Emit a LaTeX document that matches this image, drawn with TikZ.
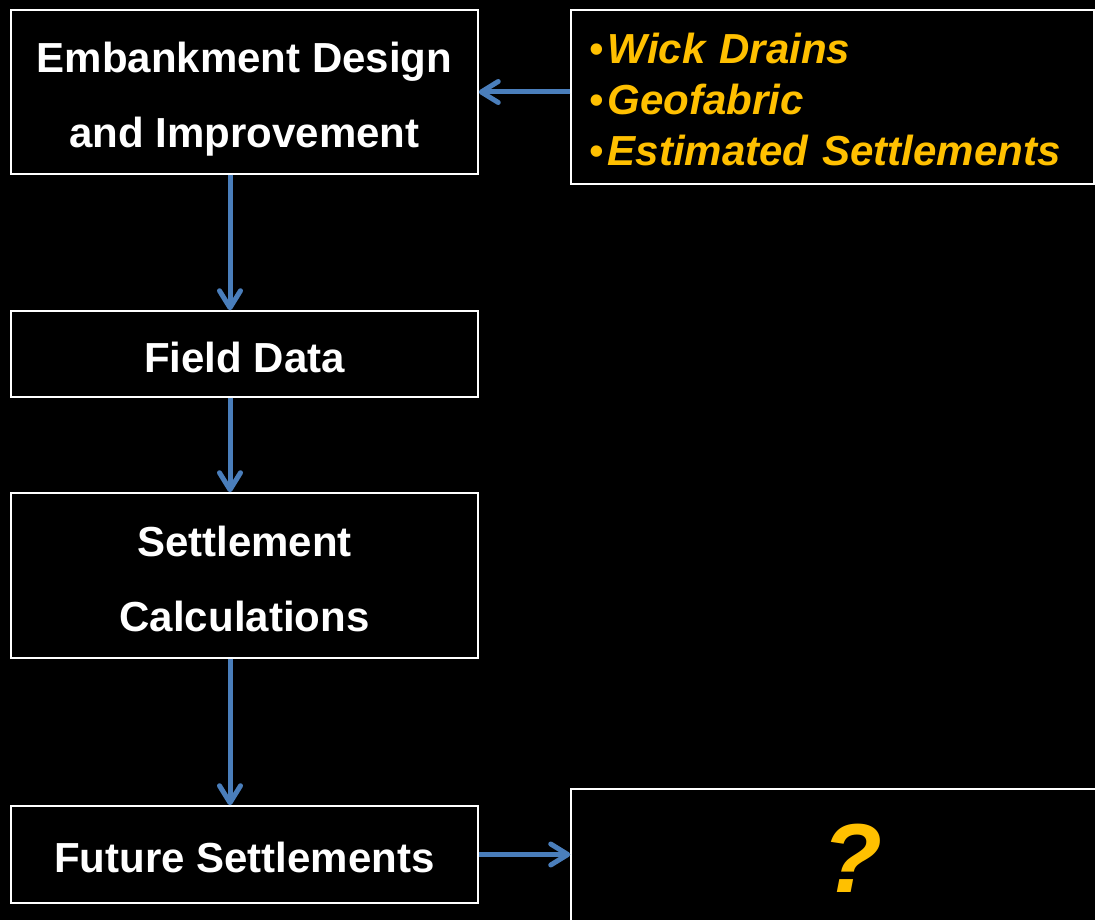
\documentclass[tikz,border=0pt]{standalone}
\usepackage{fontspec}
\setmainfont{Liberation Sans}
\usetikzlibrary{arrows.meta,positioning}
\definecolor{flowblue}{HTML}{4A7EBB}
\definecolor{notegold}{HTML}{FFC000}
\newcommand{\notebullet}{{\mdseries•}\hspace{4pt}}

\begin{document}
\begin{tikzpicture}[x=1pt,y=-1pt,
    stepbox/.style={draw=white, line width=1.5pt, fill=black, text=white,
        font=\fontsize{42}{75}\selectfont\bfseries, align=center,
        minimum width=467pt, inner sep=0pt},
    flow/.style={draw=flowblue, line width=5pt,
        -{Straight Barb[length=17pt,width=21pt,line cap=round,line join=round]}}]
        \useasboundingbox (0,0) rectangle (1095,920);
        \fill[black] (0,0) rectangle (1095,920);

        % left column
        \node[stepbox, minimum height=164pt, text height=120pt] (design) at (244.5,92) {Embankment Design\\and Improvement};
        \node[stepbox, minimum height=86pt, text height=37pt] (field) at (244.5,354) {Field Data};
        \node[stepbox, minimum height=165pt, text height=112pt] (calc) at (244.5,575.5) {Settlement\\Calculations};
        \node[stepbox, minimum height=97pt, text height=37pt] (future) at (244.5,854.5) {Future Settlements};

        % right column
        \node[stepbox, text=notegold, align=left, text width=487pt, inner xsep=18pt,
            minimum width=523pt, minimum height=174pt, text height=35pt,
            font=\fontsize{42}{51}\selectfont\bfseries] (notes) at (832.5,97)
            {\notebullet\textit{Wick Drains}\\\notebullet\textit{Geofabric}\\\notebullet\textit{Estimated Settlements}};
        \node[stepbox, text=notegold, minimum width=562pt, minimum height=138pt,
            font=\fontsize{98}{100}\selectfont\bfseries\itshape] (query) at (852,858) {?};

        \coordinate (col) at (230,0);
        \draw[flow] (design.south -| col)--(field.north -| col);
        \draw[flow] (field.south -| col)--(calc.north -| col);
        \draw[flow] (calc.south -| col)--(future.north -| col);
        \draw[flow] (notes.west |- design.east)--(design.east);
        \draw[flow] (future.east)--(future.east -| query.west);
\end{tikzpicture}
\end{document}
